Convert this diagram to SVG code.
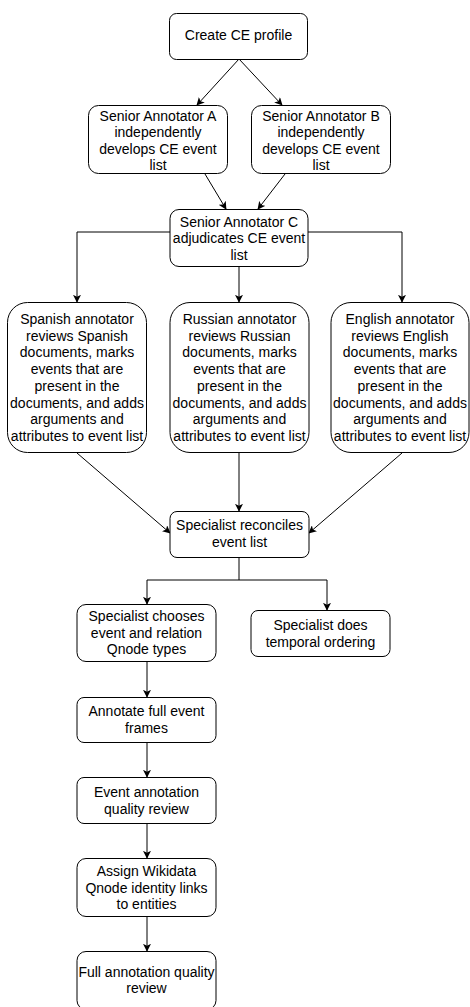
<svg xmlns="http://www.w3.org/2000/svg" width="470" height="1007" viewBox="0 0 470 1007">
<style>
.box{fill:#ffffff;stroke:#000000;stroke-width:1}
.lbl{font-family:"Liberation Sans",Arial,Helvetica,sans-serif;font-size:14px;fill:#000000;text-anchor:middle}
.edge{fill:none;stroke:#000000;stroke-width:1}
</style>
<defs>
<marker id="arr" viewBox="0 0 10 10" refX="9" refY="5" markerWidth="8" markerHeight="8" markerUnits="userSpaceOnUse" orient="auto">
<path d="M0,0 L10,5 L0,10 L2.5,5 Z" fill="#000000"/>
</marker>
</defs>
<rect width="470" height="1007" fill="#ffffff"/>
<g id="connectors">
<path class="edge" marker-end="url(#arr)" d="M239,59 L197,105"/>
<path class="edge" marker-end="url(#arr)" d="M239,59 L282,105"/>
<path class="edge" marker-end="url(#arr)" d="M205,174 L226,209"/>
<path class="edge" marker-end="url(#arr)" d="M285,174 L258,209"/>
<path class="edge" marker-end="url(#arr)" d="M170,232 L77,232 L77,302"/>
<path class="edge" marker-end="url(#arr)" d="M239,267 L239,302"/>
<path class="edge" marker-end="url(#arr)" d="M308,232 L402,232 L402,302"/>
<path class="edge" marker-end="url(#arr)" d="M77,453 L170,533"/>
<path class="edge" marker-end="url(#arr)" d="M239,453 L239,511"/>
<path class="edge" marker-end="url(#arr)" d="M402,453 L309,533"/>
<path class="edge" marker-end="url(#arr)" d="M239,557 L239,580 L147,580 L147,604"/>
<path class="edge" marker-end="url(#arr)" d="M239,580 L327,580 L327,610"/>
<path class="edge" marker-end="url(#arr)" d="M147,661 L147,697"/>
<path class="edge" marker-end="url(#arr)" d="M147,742 L147,777"/>
<path class="edge" marker-end="url(#arr)" d="M147,823 L147,858"/>
<path class="edge" marker-end="url(#arr)" d="M147,917 L147,951"/>
</g>
<g id="create">
<rect class="box" x="169.5" y="13.5" width="138" height="46" rx="7"/>
<text class="lbl" x="238.5" y="40">Create CE profile</text>
</g>
<g id="annotatorA">
<rect class="box" x="88.5" y="105.5" width="139" height="68" rx="10"/>
<text class="lbl" x="158" y="121">Senior Annotator A</text>
<text class="lbl" x="158" y="137">independently</text>
<text class="lbl" x="158" y="154">develops CE event</text>
<text class="lbl" x="158" y="170">list</text>
</g>
<g id="annotatorB">
<rect class="box" x="251.5" y="105.5" width="139" height="68" rx="10"/>
<text class="lbl" x="321" y="121">Senior Annotator B</text>
<text class="lbl" x="321" y="137">independently</text>
<text class="lbl" x="321" y="154">develops CE event</text>
<text class="lbl" x="321" y="170">list</text>
</g>
<g id="annotatorC">
<rect class="box" x="170" y="209.5" width="138" height="57" rx="9"/>
<text class="lbl" x="239" y="227">Senior Annotator C</text>
<text class="lbl" x="239" y="243">adjudicates CE event</text>
<text class="lbl" x="239" y="260">list</text>
</g>
<g id="spanish">
<rect class="box" x="7.5" y="302.5" width="139" height="150" rx="20"/>
<text class="lbl" x="77" y="324">Spanish annotator</text>
<text class="lbl" x="77" y="340.7">reviews Spanish</text>
<text class="lbl" x="77" y="357.4">documents, marks</text>
<text class="lbl" x="77" y="374.1">events that are</text>
<text class="lbl" x="77" y="390.8">present in the</text>
<text class="lbl" x="77" y="407.5">documents, and adds</text>
<text class="lbl" x="77" y="424.2">arguments and</text>
<text class="lbl" x="77" y="441">attributes to event list</text>
</g>
<g id="russian">
<rect class="box" x="170" y="302.5" width="139" height="150" rx="20"/>
<text class="lbl" x="239.5" y="324">Russian annotator</text>
<text class="lbl" x="239.5" y="340.7">reviews Russian</text>
<text class="lbl" x="239.5" y="357.4">documents, marks</text>
<text class="lbl" x="239.5" y="374.1">events that are</text>
<text class="lbl" x="239.5" y="390.8">present in the</text>
<text class="lbl" x="239.5" y="407.5">documents, and adds</text>
<text class="lbl" x="239.5" y="424.2">arguments and</text>
<text class="lbl" x="239.5" y="441">attributes to event list</text>
</g>
<g id="english">
<rect class="box" x="331" y="302.5" width="138" height="150" rx="20"/>
<text class="lbl" x="400" y="324">English annotator</text>
<text class="lbl" x="400" y="340.7">reviews English</text>
<text class="lbl" x="400" y="357.4">documents, marks</text>
<text class="lbl" x="400" y="374.1">events that are</text>
<text class="lbl" x="400" y="390.8">present in the</text>
<text class="lbl" x="400" y="407.5">documents, and adds</text>
<text class="lbl" x="400" y="424.2">arguments and</text>
<text class="lbl" x="400" y="441">attributes to event list</text>
</g>
<g id="reconciles">
<rect class="box" x="170" y="511.5" width="139" height="46" rx="7"/>
<text class="lbl" x="239.5" y="530">Specialist reconciles</text>
<text class="lbl" x="239.5" y="547">event list</text>
</g>
<g id="chooses">
<rect class="box" x="77" y="604.5" width="139" height="57" rx="9"/>
<text class="lbl" x="146.5" y="621">Specialist chooses</text>
<text class="lbl" x="146.5" y="637.5">event and relation</text>
<text class="lbl" x="146.5" y="654">Qnode types</text>
</g>
<g id="temporal">
<rect class="box" x="251" y="610.5" width="139" height="46" rx="7"/>
<text class="lbl" x="320.5" y="630">Specialist does</text>
<text class="lbl" x="320.5" y="647">temporal ordering</text>
</g>
<g id="annotate">
<rect class="box" x="77" y="697.5" width="139" height="45" rx="7"/>
<text class="lbl" x="146.5" y="716">Annotate full event</text>
<text class="lbl" x="146.5" y="733">frames</text>
</g>
<g id="eventreview">
<rect class="box" x="77" y="777.5" width="139" height="46" rx="7"/>
<text class="lbl" x="146.5" y="797">Event annotation</text>
<text class="lbl" x="146.5" y="814">quality review</text>
</g>
<g id="assign">
<rect class="box" x="77" y="858.5" width="139" height="58" rx="9"/>
<text class="lbl" x="146.5" y="876">Assign Wikidata</text>
<text class="lbl" x="146.5" y="892.5">Qnode identity links</text>
<text class="lbl" x="146.5" y="909">to entities</text>
</g>
<g id="fullreview">
<rect class="box" x="77" y="951.5" width="139" height="58" rx="9"/>
<text class="lbl" x="146.5" y="977">Full annotation quality</text>
<text class="lbl" x="146.5" y="993">review</text>
</g>
</svg>
